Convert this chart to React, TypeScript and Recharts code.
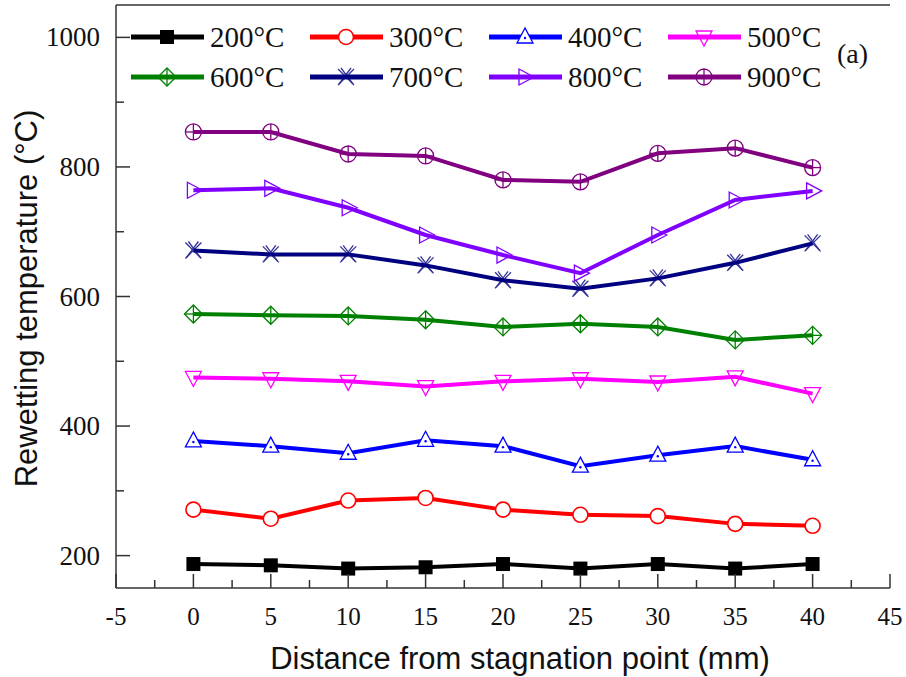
import { Legend, Line, LineChart, ReferenceLine, XAxis, YAxis } from "recharts";

const distance = [0, 5, 10, 15, 20, 25, 30, 35, 40];
const t200 = [187, 185, 180, 182, 187, 180, 187, 180, 187];
const t300 = [271, 257, 285, 289, 271, 263, 261, 249, 246];
const t400 = [377, 369, 358, 378, 369, 338, 355, 369, 348];
const t500 = [475, 473, 469, 461, 469, 473, 468, 476, 450];
const t600 = [573, 571, 570, 564, 553, 558, 553, 533, 540];
const t700 = [671, 665, 665, 648, 625, 612, 628, 652, 682];
const t800 = [764, 767, 737, 695, 664, 636, 695, 749, 763];
const t900 = [854, 854, 820, 817, 780, 777, 821, 829, 799];

const xTicks = [-5, -2.5, 0, 2.5, 5, 7.5, 10, 12.5, 15, 17.5, 20, 22.5, 25, 27.5, 30, 32.5, 35, 37.5, 40, 42.5, 45];
const yTicks = [200, 300, 400, 500, 600, 700, 800, 900, 1000];

const series = [
  { key: "t200", name: "200°C", color: "#000000", marker: "square", values: t200 },
  { key: "t300", name: "300°C", color: "#ff0000", marker: "circle", values: t300 },
  { key: "t400", name: "400°C", color: "#0000ff", marker: "triUp", values: t400 },
  { key: "t500", name: "500°C", color: "#ff00ff", marker: "triDown", values: t500 },
  { key: "t600", name: "600°C", color: "#008000", marker: "diamondPlus", values: t600 },
  { key: "t700", name: "700°C", color: "#000080", marker: "cross", values: t700 },
  { key: "t800", name: "800°C", color: "#8000ff", marker: "triRight", values: t800 },
  { key: "t900", name: "900°C", color: "#800080", marker: "circlePlus", values: t900 },
];

const data = distance.map((d, i) => {
  const row: Record<string, number> = { d };
  series.forEach((s) => (row[s.key] = s.values[i]));
  return row;
});

const SERIF = "'Liberation Serif', 'Times New Roman', serif";
const SANS = "'Liberation Sans', Arial, sans-serif";
const AXIS = "#333";

function Marker({ kind, cx, cy, color }: { kind: string; cx: number; cy: number; color: string }) {
  const sw = 1.3;
  switch (kind) {
    case "square":
      return <rect x={cx - 7} y={cy - 7} width={14} height={14} fill={color} />;
    case "circle":
      return <circle cx={cx} cy={cy} r={7.5} fill="#fff" stroke={color} strokeWidth={1.6} />;
    case "triUp":
      return (
        <g>
          <polygon points={`${cx},${cy - 9} ${cx - 8},${cy + 6} ${cx + 8},${cy + 6}`} fill="#fff" stroke={color} strokeWidth={sw} />
          <circle cx={cx} cy={cy + 1} r={1.2} fill={color} />
        </g>
      );
    case "triDown":
      return <polygon points={`${cx},${cy + 9} ${cx - 8},${cy - 6} ${cx + 8},${cy - 6}`} fill="none" stroke={color} strokeWidth={sw} />;
    case "diamondPlus":
      return (
        <g fill="none" stroke={color} strokeWidth={sw}>
          <polygon points={`${cx},${cy - 9} ${cx + 9},${cy} ${cx},${cy + 9} ${cx - 9},${cy}`} />
          <line x1={cx - 9} x2={cx + 9} y1={cy} y2={cy} />
          <line x1={cx} x2={cx} y1={cy - 9} y2={cy + 9} />
        </g>
      );
    case "cross":
      return (
        <g fill="none" stroke={color} strokeWidth={sw} opacity={0.8}>
          <line x1={cx - 8} x2={cx + 8} y1={cy - 8} y2={cy + 8} />
          <line x1={cx - 8} x2={cx + 8} y1={cy + 8} y2={cy - 8} />
          <line x1={cx - 5} x2={cx + 7} y1={cy - 9} y2={cy + 7} />
          <line x1={cx - 7} x2={cx + 5} y1={cy + 7} y2={cy - 9} />
        </g>
      );
    case "triRight":
      return <polygon points={`${cx + 9},${cy} ${cx - 6},${cy - 8} ${cx - 6},${cy + 8}`} fill="none" stroke={color} strokeWidth={sw} />;
    case "circlePlus":
      return (
        <g fill="none" stroke={color} strokeWidth={sw}>
          <circle cx={cx} cy={cy} r={8} />
          <line x1={cx - 8} x2={cx + 8} y1={cy} y2={cy} />
          <line x1={cx} x2={cx} y1={cy - 8} y2={cy + 8} />
        </g>
      );
    default:
      return null;
  }
}

const YTick = (props: any) => {
  const { x, y, payload } = props;
  const major = payload.value % 200 === 0;
  return (
    <g>
      <line x1={x} x2={x + (major ? 14 : 8)} y1={y} y2={y} stroke={AXIS} strokeWidth={1.5} />
      {major && (
        <text x={x - 16} y={y + 9} textAnchor="end" fontFamily={SERIF} fontSize={27} fill="#111">
          {payload.value}
        </text>
      )}
    </g>
  );
};

const XTick = (props: any) => {
  const { x, y, payload } = props;
  const major = payload.value % 5 === 0;
  return (
    <g>
      <line x1={x} x2={x} y1={y} y2={y - (major ? 14 : 8)} stroke={AXIS} strokeWidth={1.5} />
      {major && (
        <text x={x} y={y + 37} textAnchor="middle" fontFamily={SERIF} fontSize={25} fill="#111">
          {payload.value}
        </text>
      )}
    </g>
  );
};

const LegendBox = () => (
  <svg width={906} height={100} style={{ display: "block" }}>
    {series.map((s, i) => {
      const x0 = 131 + (i % 4) * 179;
      const y = 37 + Math.floor(i / 4) * 40;
      return (
        <g key={s.key}>
          <line x1={x0} x2={x0 + 73} y1={y} y2={y} stroke={s.color} strokeWidth={5} />
          <Marker kind={s.marker} cx={x0 + 36} cy={y} color={s.color} />
          <text x={x0 + 79} y={y + 10} fontFamily={SERIF} fontSize={29} fill="#111">
            {s.name}
          </text>
        </g>
      );
    })}
    <text x={837} y={63} fontFamily={SERIF} fontSize={28} fill="#111">
      (a)
    </text>
  </svg>
);

export default function App() {
  return (
    <div style={{ position: "absolute", left: 0, top: 0, background: "#fff" }}>
      <LineChart width={906} height={677} data={data} margin={{ top: 5, right: 16, left: 0, bottom: 0 }}>
        <XAxis
          dataKey="d"
          type="number"
          domain={[-5, 45]}
          ticks={xTicks}
          interval={0}
          height={89}
          tickSize={0}
          tickMargin={0}
          tickLine={false}
          tick={XTick}
          axisLine={{ stroke: AXIS, strokeWidth: 1.5 }}
          label={{
            content: (p: any) => {
              const vb = p.viewBox;
              return (
                <text x={vb.x + vb.width / 2 + 17} y={669} textAnchor="middle" fontFamily={SANS} fontSize={31} fill="#111">
                  Distance from stagnation point (mm)
                </text>
              );
            },
          }}
        />
        <YAxis
          type="number"
          domain={[150, 1050]}
          ticks={yTicks}
          interval={0}
          width={116}
          tickSize={0}
          tickMargin={0}
          tickLine={false}
          tick={YTick}
          axisLine={{ stroke: AXIS, strokeWidth: 1.5 }}
          label={{
            content: (p: any) => {
              const vb = p.viewBox;
              const cy = vb.y + vb.height / 2 + 2;
              return (
                <text x={37} y={cy} transform={`rotate(-90 37 ${cy})`} textAnchor="middle" fontFamily={SANS} fontSize={31} fill="#111">
                  Rewetting temperature (°C)
                </text>
              );
            },
          }}
        />
        <YAxis
          yAxisId="right"
          type="number"
          domain={[150, 1050]}
          orientation="right"
          width={0}
          tick={false}
          tickLine={false}
          axisLine={{ stroke: AXIS, strokeWidth: 2 }}
        />
        <ReferenceLine y={1050} stroke={AXIS} strokeWidth={1.5} ifOverflow="extendDomain" />
        <Legend
          verticalAlign="middle"
          layout="horizontal"
          content={() => <LegendBox />}
          wrapperStyle={{ left: 0, top: 0, width: 906, height: 100, pointerEvents: "none" }}
        />
        {series.map((s) => (
          <Line
            key={s.key}
            dataKey={s.key}
            name={s.name}
            type="linear"
            stroke={s.color}
            strokeWidth={4}
            isAnimationActive={false}
            activeDot={false}
            dot={(p: any) => <Marker key={`${s.key}-${p.index}`} kind={s.marker} cx={p.cx} cy={p.cy} color={s.color} />}
          />
        ))}
      </LineChart>
    </div>
  );
}
